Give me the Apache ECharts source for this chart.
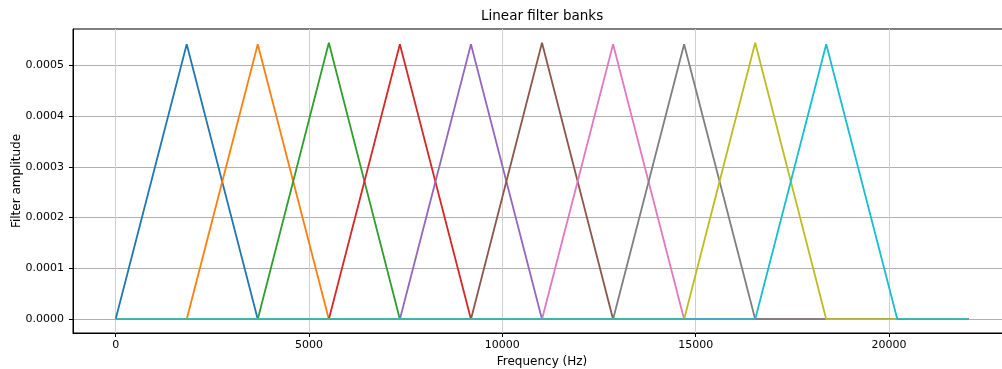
<!DOCTYPE html>
<html>
<head>
<meta charset="utf-8">
<script src="https://cdn.jsdelivr.net/npm/echarts@6/dist/echarts.min.js"></script>
<style>
  html, body { margin: 0; padding: 0; background: #fff; }
  #charts { width: 1002px; height: 369px; }
</style>
</head>
<body>
<div id="charts"></div>
<script>
// triangular filters (Hz)
const starts = [0, 1838, 3675, 5513, 7350, 9188, 11025, 12863, 14700, 16538]
const peaks = [1838, 3675, 5513, 7350, 9188, 11025, 12863, 14700, 16538, 18375]
const ends = [3675, 5513, 7350, 9188, 11025, 12863, 14700, 16538, 18375, 20213]
const heights = [0.000541, 0.000541, 0.000544, 0.000541, 0.000541, 0.000544, 0.000541, 0.000541, 0.000544, 0.000541]
const fMax = 22050
const xTicks = [0, 5000, 10000, 15000, 20000]
const yTicks = [0, 0.0001, 0.0002, 0.0003, 0.0004, 0.0005]
const colors = ['#1f77b4', '#ff7f0e', '#2ca02c', '#d62728', '#9467bd',
  '#8c564b', '#e377c2', '#7f7f7f', '#bcbd22', '#17becf']

const font = 'DejaVu Sans'

const series = peaks.map((p, i) => ({
  type: 'line',
  showSymbol: false,
  symbol: 'none',
  data: [[0, 0], [starts[i], 0], [p, heights[i]], [ends[i], 0], [fMax, 0]],
  lineStyle: { width: 1.8, color: colors[i] },
  itemStyle: { color: colors[i] },
}))

const charts = echarts.init(document.getElementById('charts'))
charts.setOption({
  animation: false,
  title: {
    text: 'Linear filter banks',
    left: 481,
    top: 9,
    padding: 0,
    textStyle: { fontFamily: font, fontSize: 13.5, fontWeight: 'normal', color: '#000' },
  },
  grid: {
    left: 73,
    top: 29,
    width: 938,
    height: 304,
    containLabel: false,
    outerBoundsMode: 'none',
    show: true,
    borderColor: '#000',
    borderWidth: 1,
    backgroundColor: 'transparent',
  },
  xAxis: {
    type: 'value',
    min: -1102.5,
    max: 23152.5,
    name: 'Frequency (Hz)',
    nameLocation: 'middle',
    nameGap: 23,
    nameMoveOverlap: false,
    nameTextStyle: { fontFamily: font, fontSize: 12, color: '#000' },
    axisLine: { show: true, onZero: false, lineStyle: { color: '#000', width: 1 } },
    axisTick: { show: true, length: 4, customValues: xTicks, lineStyle: { color: '#000' } },
    axisLabel: {
      customValues: xTicks,
      margin: 7,
      fontFamily: font,
      fontSize: 11,
      color: '#000',
      formatter: v => String(v),
    },
    splitLine: { show: true, lineStyle: { color: '#cfcfcf', width: 1 } },
  },
  yAxis: {
    type: 'value',
    min: -0.0000272,
    max: 0.0005712,
    name: 'Filter amplitude',
    nameLocation: 'middle',
    nameGap: 50,
    nameMoveOverlap: false,
    nameTextStyle: { fontFamily: font, fontSize: 12, color: '#000' },
    axisLine: { show: true, onZero: false, lineStyle: { color: '#000', width: 1 } },
    axisTick: { show: true, length: 4, customValues: yTicks, lineStyle: { color: '#000' } },
    axisLabel: {
      customValues: yTicks,
      margin: 9,
      fontFamily: font,
      fontSize: 11,
      color: '#000',
      formatter: v => v.toFixed(4),
    },
    splitLine: { show: true, lineStyle: { color: '#b0b0b0', width: 1 } },
  },
  series: series,
})
</script>
</body>
</html>
